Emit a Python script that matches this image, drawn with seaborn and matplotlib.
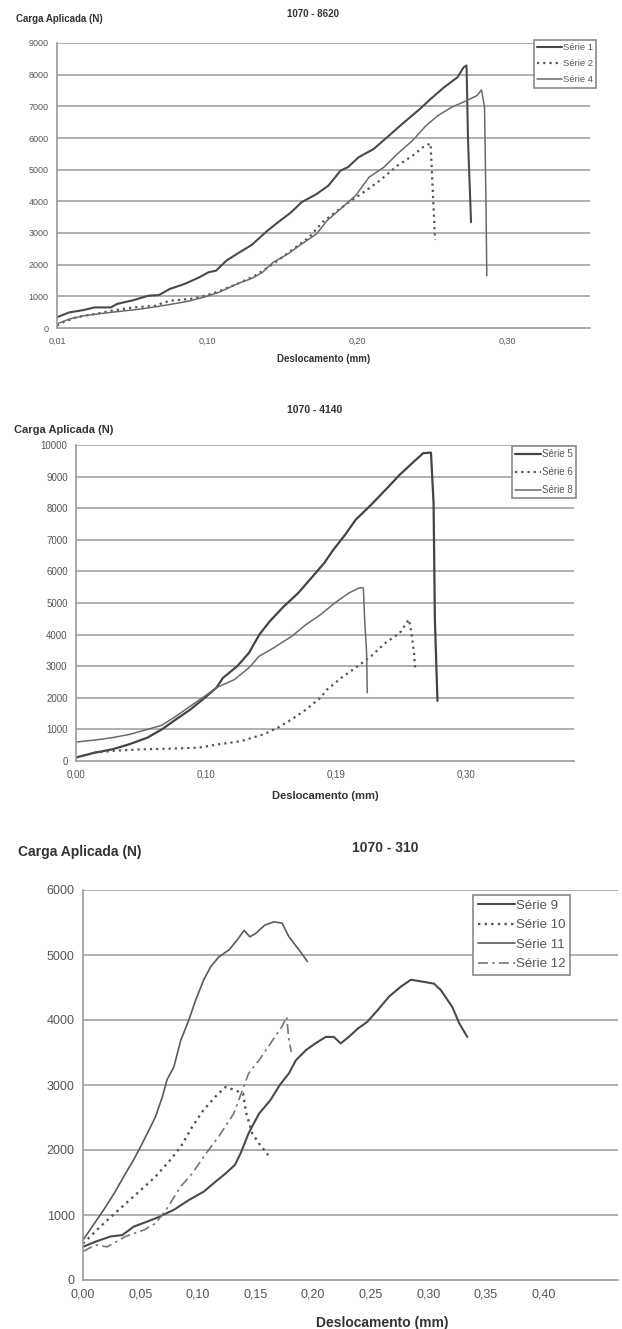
import numpy as np
import pandas as pd
import matplotlib
matplotlib.use("Agg")
import matplotlib.pyplot as plt
import seaborn as sns

# ---------------- data: 1070 - 8620 ----------------
s1_x = [0.000, 0.008, 0.018, 0.025, 0.036, 0.040, 0.051, 0.061, 0.068, 0.075, 0.085, 0.094,
        0.101, 0.106, 0.113, 0.120, 0.130, 0.139, 0.146, 0.156, 0.163, 0.173, 0.181, 0.189,
        0.194, 0.201, 0.211, 0.220, 0.230, 0.242, 0.249, 0.258, 0.267, 0.271, 0.273, 0.274, 0.276]
s1_y = [340, 490, 570, 650, 650, 760, 880, 1020, 1040, 1230, 1390, 1580,
        1760, 1810, 2130, 2340, 2630, 3020, 3290, 3650, 3970, 4230, 4500, 4970,
        5080, 5390, 5650, 6020, 6440, 6920, 7230, 7600, 7920, 8230, 8290, 5920, 3340]

s2_x = [0.000, 0.004, 0.013, 0.025, 0.037, 0.051, 0.065, 0.075, 0.089, 0.099, 0.108, 0.120,
        0.132, 0.144, 0.156, 0.168, 0.177, 0.187, 0.196, 0.206, 0.215, 0.227, 0.237, 0.244,
        0.249, 0.250, 0.251, 0.252]
s2_y = [70, 180, 340, 440, 550, 650, 700, 860, 920, 1020, 1160, 1390,
        1650, 2020, 2440, 2860, 3340, 3710, 4020, 4340, 4650, 5130, 5440, 5710,
        5830, 4860, 3810, 2780]

s4_x = [0.000, 0.008, 0.018, 0.037, 0.056, 0.075, 0.089, 0.099, 0.108, 0.120, 0.130, 0.137,
        0.144, 0.154, 0.163, 0.173, 0.180, 0.189, 0.199, 0.208, 0.218, 0.227, 0.237, 0.246,
        0.254, 0.263, 0.273, 0.280, 0.283, 0.285, 0.286, 0.2865]
s4_y = [130, 280, 390, 500, 600, 740, 860, 990, 1130, 1390, 1570, 1760,
        2070, 2340, 2650, 2970, 3390, 3760, 4180, 4760, 5080, 5500, 5920, 6390,
        6710, 6970, 7180, 7340, 7520, 6970, 3810, 1650]

# ---------------- data: 1070 - 4140 ----------------
s5_x = [0.000, 0.014, 0.028, 0.041, 0.055, 0.066, 0.077, 0.088, 0.099, 0.108, 0.113, 0.124,
        0.133, 0.141, 0.149, 0.160, 0.171, 0.182, 0.191, 0.198, 0.207, 0.215, 0.227, 0.238,
        0.249, 0.260, 0.267, 0.273, 0.275, 0.276, 0.278]
s5_y = [110, 260, 370, 530, 740, 1000, 1320, 1630, 2000, 2320, 2630, 3000,
        3420, 4000, 4420, 4900, 5320, 5840, 6270, 6690, 7160, 7630, 8110, 8580,
        9060, 9480, 9740, 9760, 8160, 4480, 1900]

s6_x = [0.000, 0.014, 0.028, 0.050, 0.072, 0.094, 0.110, 0.127, 0.144, 0.155, 0.166, 0.177,
        0.188, 0.193, 0.204, 0.215, 0.227, 0.238, 0.249, 0.256, 0.258, 0.260, 0.261]
s6_y = [110, 260, 320, 370, 390, 420, 530, 630, 840, 1050, 1320, 1630,
        2000, 2260, 2630, 2950, 3320, 3740, 4050, 4480, 4050, 3420, 2840]

s8_x = [0.000, 0.014, 0.028, 0.041, 0.055, 0.066, 0.077, 0.088, 0.099, 0.108, 0.122, 0.133,
        0.141, 0.152, 0.166, 0.177, 0.188, 0.199, 0.210, 0.218, 0.221, 0.222, 0.2235, 0.224]
s8_y = [600, 660, 740, 840, 1000, 1130, 1420, 1740, 2050, 2320, 2580, 2950,
        3320, 3580, 3950, 4320, 4630, 5000, 5320, 5480, 5480, 4480, 3420, 2160]

# ---------------- data: 1070 - 310 ----------------
s9_x = [0.000, 0.011, 0.024, 0.034, 0.044, 0.056, 0.066, 0.079, 0.092, 0.105, 0.115, 0.124,
        0.132, 0.137, 0.144, 0.153, 0.163, 0.171, 0.179, 0.185, 0.194, 0.202, 0.211, 0.218,
        0.224, 0.231, 0.239, 0.247, 0.256, 0.266, 0.276, 0.285, 0.295, 0.305, 0.311, 0.321,
        0.327, 0.334]
s9_y = [510, 590, 670, 690, 820, 900, 970, 1080, 1230, 1360, 1510, 1640,
        1770, 1950, 2260, 2560, 2770, 3000, 3180, 3380, 3540, 3640, 3740, 3740,
        3640, 3740, 3870, 3970, 4150, 4360, 4510, 4620, 4590, 4560, 4460, 4200,
        3950, 3740]

s10_x = [0.000, 0.015, 0.031, 0.050, 0.063, 0.076, 0.085, 0.095, 0.105, 0.115, 0.124, 0.132,
         0.139, 0.142, 0.147, 0.153, 0.161]
s10_y = [560, 820, 1080, 1380, 1590, 1850, 2050, 2360, 2620, 2820, 2970, 2920,
         2870, 2560, 2260, 2100, 1920]

s11_x = [0.000, 0.008, 0.018, 0.027, 0.037, 0.044, 0.050, 0.056, 0.063, 0.069, 0.073, 0.079,
         0.085, 0.092, 0.098, 0.105, 0.111, 0.118, 0.127, 0.134, 0.140, 0.145, 0.150, 0.158,
         0.166, 0.173, 0.179, 0.182, 0.189, 0.195]
s11_y = [615, 820, 1080, 1330, 1640, 1850, 2050, 2260, 2510, 2820, 3080, 3280,
         3690, 4000, 4310, 4620, 4820, 4970, 5080, 5230, 5380, 5280, 5330, 5460,
         5510, 5490, 5280, 5210, 5050, 4900]

s12_x = [0.000, 0.011, 0.021, 0.037, 0.053, 0.063, 0.073, 0.085, 0.095, 0.105, 0.118, 0.131,
         0.144, 0.153, 0.163, 0.173, 0.177, 0.179, 0.181]
s12_y = [440, 540, 510, 670, 770, 870, 1100, 1440, 1640, 1900, 2210, 2560,
         3180, 3380, 3640, 3900, 4050, 3690, 3510]

# ---------------- labels ----------------
titles = ["1070 - 8620", "1070 - 4140", "1070 - 310"]
y_title = "Carga Aplicada (N)"
x_title = "Deslocamento (mm)"
names_a = ["Série 1", "Série 2", "Série 4"]
names_b = ["Série 5", "Série 6", "Série 8"]
names_c = ["Série 9", "Série 10", "Série 11", "Série 12"]
xt_a = ["0,01", "0,10", "0,20", "0,30"]
xt_b = ["0,00", "0,10", "0,19", "0,30"]
xt_c = ["0,00", "0,05", "0,10", "0,15", "0,20", "0,25", "0,30", "0,35", "0,40"]

# ---------------- style ----------------
sns.set_theme(style="white")
plt.rcParams["font.family"] = ["Liberation Sans", "DejaVu Sans"]

W, H = 622, 1329
fig = plt.figure(figsize=(W / 100, H / 100), dpi=100)
fig.patch.set_facecolor("white")

GRID = "#a9a9a9"
AXC = "#9a9a9a"
TXT = "#555555"
DARK = "#333333"


def add_ax(l, r, t, b):
    return fig.add_axes([l / W, 1 - b / H, (r - l) / W, (b - t) / H])


def ftext(x, y, s, size, ha="center", weight="bold", color=DARK):
    fig.text(x / W, 1 - y / H, s, ha=ha, va="center", fontsize=size,
             fontweight=weight, color=color)


def style_ax(ax, xmax, ymax, ystep, xmaj, xlabels, xminor, fs):
    ax.set_xlim(0, xmax)
    ax.set_ylim(0, ymax)
    ax.set_yticks(np.arange(0, ymax + 1, ystep))
    ax.set_yticklabels([str(int(v)) for v in np.arange(0, ymax + 1, ystep)])
    ax.set_xticks(xmaj)
    ax.set_xticklabels(xlabels)
    ax.set_xticks(xminor, minor=True)
    for v in np.arange(ystep, ymax + 1, ystep):
        ax.axhline(v, color=GRID, lw=1.3, zorder=0)
    for side in ["top", "right"]:
        ax.spines[side].set_visible(False)
    for side in ["left", "bottom"]:
        ax.spines[side].set_color(AXC)
        ax.spines[side].set_linewidth(1.2)
    ax.tick_params(axis="both", which="both", colors=AXC, labelcolor=TXT,
                   labelsize=fs, direction="inout", length=4, width=1, pad=4)
    ax.tick_params(axis="x", which="minor", length=4)
    ax.set_xlabel("")
    ax.set_ylabel("")
    ax.set_facecolor("white")


def draw(ax, xs, ys, name, color, ls, lw):
    df = pd.DataFrame({"x": xs, "y": ys})
    sns.lineplot(data=df, x="x", y="y", ax=ax, color=color, linestyle=ls,
                 linewidth=lw, label=name, sort=False, estimator=None)


def legend(ax, x_right, y_top, fs, hl, spacing):
    leg = ax.legend(loc="upper right", bbox_to_anchor=(x_right / W, 1 - y_top / H),
                    bbox_transform=fig.transFigure, fontsize=fs, frameon=True,
                    fancybox=False, framealpha=1, edgecolor="#8a8a8a",
                    borderpad=0.35, labelspacing=spacing, handlelength=hl,
                    handletextpad=0.1, borderaxespad=0)
    leg.get_frame().set_linewidth(1.2)
    for t in leg.get_texts():
        t.set_color(TXT)


DOT = (0, (1.0, 1.8))
DASHDOT = (0, (6, 2.5, 1.5, 2.5))

# ---------------- chart 1 ----------------
ax1 = add_ax(57, 590, 43, 328)
draw(ax1, s1_x, s1_y, names_a[0], "#4a4a4a", "-", 1.5)
draw(ax1, s2_x, s2_y, names_a[1], "#555555", DOT, 1.6)
draw(ax1, s4_x, s4_y, names_a[2], "#6a6a6a", "-", 1.1)
style_ax(ax1, 0.3553, 9000, 1000, [0, 0.1, 0.2, 0.3], xt_a,
         np.arange(0.05, 0.36, 0.1), 6.5)
legend(ax1, 596, 40, 6.8, 2.6, 0.75)
ftext(313, 14, titles[0], 7)
ftext(16, 19, y_title, 7, ha="left")
ftext(324, 359, x_title, 7)

# ---------------- chart 2 ----------------
ax2 = add_ax(76, 574, 445, 761)
draw(ax2, s5_x, s5_y, names_b[0], "#444444", "-", 1.6)
draw(ax2, s6_x, s6_y, names_b[1], "#555555", DOT, 1.6)
draw(ax2, s8_x, s8_y, names_b[2], "#6a6a6a", "-", 1.1)
style_ax(ax2, 0.383, 10000, 1000, [0, 0.1, 0.2, 0.3], xt_b,
         np.arange(0.05, 0.38, 0.1), 7)
legend(ax2, 576, 446, 7, 2.6, 0.8)
ftext(315, 410, titles[1], 7.5)
ftext(14, 430, y_title, 8, ha="left")
ftext(325, 796, x_title, 8)

# ---------------- chart 3 ----------------
ax3 = add_ax(83, 618, 890, 1280)
draw(ax3, s9_x, s9_y, names_c[0], "#4a4a4a", "-", 1.5)
draw(ax3, s10_x, s10_y, names_c[1], "#555555", DOT, 1.7)
draw(ax3, s11_x, s11_y, names_c[2], "#5a5a5a", "-", 1.2)
draw(ax3, s12_x, s12_y, names_c[3], "#777777", DASHDOT, 1.2)
style_ax(ax3, 0.465, 6000, 1000, np.arange(0, 0.401, 0.05), xt_c,
         np.arange(0.025, 0.46, 0.05), 9)
legend(ax3, 570, 895, 9.5, 2.8, 0.55)
ftext(385, 848, titles[2], 10)
ftext(18, 852, y_title, 10, ha="left")
ftext(382, 1323, x_title, 10)

fig.savefig("out.png", dpi=100, facecolor="white")
